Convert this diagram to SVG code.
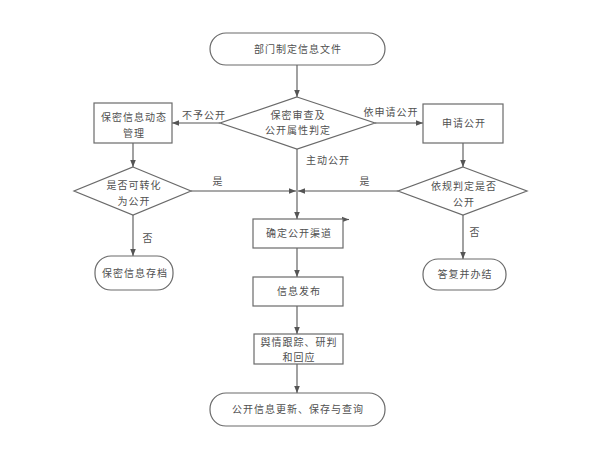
<svg xmlns="http://www.w3.org/2000/svg" width="606" height="450" viewBox="0 0 606 450">
<style>
.s{fill:#fff;stroke:#6a6a6a;stroke-width:1.2}
.c{fill:none;stroke:#555;stroke-width:1.1}
text{font-family:"Noto Sans CJK SC","Liberation Sans",sans-serif;font-size:10px;letter-spacing:1px;fill:#505050;text-anchor:middle}
</style>
<defs>
<marker id="a" viewBox="0 0 10 10" refX="10" refY="5" markerWidth="7" markerHeight="7" orient="auto" markerUnits="userSpaceOnUse">
<path d="M0,1 L10,5 L0,9 z" fill="#555"/>
</marker>
</defs>
<rect width="606" height="450" fill="#fff"/>
<g id="connectors">
<path class="c" d="M297,65 V97" marker-end="url(#a)"/>
<path class="c" d="M220,123 H172" marker-end="url(#a)"/>
<path class="c" d="M375,123 H423" marker-end="url(#a)"/>
<path class="c" d="M133,143 V167" marker-end="url(#a)"/>
<path class="c" d="M463,143 V167" marker-end="url(#a)"/>
<path class="c" d="M191,191 H296" marker-end="url(#a)"/>
<path class="c" d="M398,191 H298" marker-end="url(#a)"/>
<path class="c" d="M133,215 V256" marker-end="url(#a)"/>
<path class="c" d="M463,215 V259" marker-end="url(#a)"/>
<path class="c" d="M297,149 V219" marker-end="url(#a)"/>
<path class="c" d="M297,248 V277" marker-end="url(#a)"/>
<path class="c" d="M297,306 V334" marker-end="url(#a)"/>
<path class="c" d="M297,364 V393" marker-end="url(#a)"/>
<path class="c" d="M343,219.5 H349" marker-end="url(#a)"/>
<text x="204" y="119">不予公开</text>
<text x="391" y="116">依申请公开</text>
<text x="328" y="164">主动公开</text>
<text x="218" y="185">是</text>
<text x="365" y="185">是</text>
<text x="148" y="242">否</text>
<text x="475" y="236">否</text>
</g>
<g id="n1"><rect class="s" x="210" y="33" width="175" height="32" rx="16"/><text x="298" y="53">部门制定信息文件</text></g>
<g id="n2"><path class="s" d="M297,97 L375,123 L297,149 L220,123 z"/><text x="298" y="119">保密审查及</text><text x="298" y="134">公开属性判定</text></g>
<g id="n3"><rect class="s" x="94" y="103" width="78" height="40"/><text x="134" y="121">保密信息动态</text><text x="134" y="137">管理</text></g>
<g id="n4"><rect class="s" x="423" y="104" width="80" height="39"/><text x="464" y="127">申请公开</text></g>
<g id="n5"><path class="s" d="M133,167 L191,191 L133,215 L74,191 z"/><text x="134" y="189">是否可转化</text><text x="134" y="205">为公开</text></g>
<g id="n6"><path class="s" d="M463,167 L527,191 L463,215 L398,191 z"/><text x="464" y="190">依规判定是否</text><text x="464" y="206">公开</text></g>
<g id="n7"><rect class="s" x="95" y="256" width="78" height="34" rx="16"/><text x="135" y="277">保密信息存档</text></g>
<g id="n8"><rect class="s" x="423" y="259" width="83" height="31" rx="15"/><text x="465" y="278">答复并办结</text></g>
<g id="n9"><rect class="s" x="253" y="219" width="90" height="29"/><text x="299" y="237">确定公开渠道</text></g>
<g id="n10"><rect class="s" x="253" y="277" width="90" height="29"/><text x="299" y="295">信息发布</text></g>
<g id="n11"><rect class="s" x="254" y="334" width="89" height="30"/><text x="299" y="346">舆情跟踪、研判</text><text x="299" y="361">和回应</text></g>
<g id="n12"><rect class="s" x="210" y="393" width="175" height="33" rx="16"/><text x="298" y="413">公开信息更新、保存与查询</text></g>
</svg>
